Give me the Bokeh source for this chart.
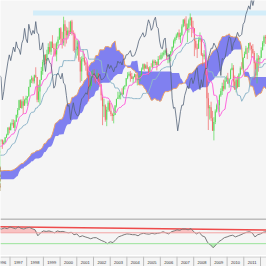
import numpy as np
from bokeh.plotting import figure
from bokeh.layouts import column
from bokeh.models import Range1d, Span
from bokeh.core.properties import value
from bokeh.embed import file_html
from bokeh.resources import INLINE

# ---------------- data: monthly index values, Jan 1990 .. Dec 2013 ----------------
FIRST_YEAR = 1990
OPEN_FIRST = 353.4

close = [
    329.1, 331.9, 339.9, 330.8, 361.2, 358.0, 356.2, 322.6, 306.1, 304.0, 322.2, 330.2,
    343.9, 367.1, 375.2, 375.3, 389.8, 371.2, 387.8, 395.4, 387.9, 392.5, 375.2, 417.1,
    408.8, 412.7, 403.7, 414.9, 415.4, 408.1, 424.2, 414.0, 417.8, 418.7, 431.4, 435.7,
    438.8, 443.4, 451.7, 440.2, 450.2, 450.5, 448.1, 463.6, 458.9, 467.8, 461.8, 466.5,
    481.6, 467.1, 445.8, 450.9, 456.5, 444.3, 458.3, 475.5, 462.7, 472.4, 454.0, 459.3,
    470.4, 487.4, 500.7, 514.7, 533.4, 544.8, 562.1, 561.9, 584.4, 581.5, 605.4, 615.9,
    636.0, 640.4, 645.5, 654.2, 669.1, 670.6, 639.9, 652.0, 687.3, 705.3, 757.0, 740.7,
    786.2, 790.8, 757.1, 801.3, 848.3, 885.1, 954.3, 899.5, 947.3, 914.6, 955.4, 970.4,
    980.3, 1049.3, 1101.8, 1111.8, 1090.8, 1133.8, 1120.7, 957.3, 1017.0, 1098.7, 1163.6, 1229.2,
    1279.6, 1238.3, 1286.4, 1335.2, 1301.8, 1372.7, 1328.7, 1320.4, 1282.7, 1362.9, 1389.0, 1469.3,
    1394.5, 1366.4, 1498.6, 1452.4, 1420.6, 1454.6, 1430.8, 1517.7, 1436.5, 1429.4, 1315.2, 1320.3,
    1366.0, 1239.9, 1160.3, 1249.5, 1255.8, 1224.4, 1211.2, 1133.6, 1040.9, 1059.8, 1139.5, 1148.1,
    1130.2, 1106.7, 1147.4, 1076.9, 1067.1, 989.8, 911.6, 916.1, 815.3, 885.8, 936.3, 879.8,
    855.7, 841.2, 848.2, 916.9, 963.6, 974.5, 990.3, 1008.0, 996.0, 1050.7, 1058.2, 1111.9,
    1131.1, 1144.9, 1126.2, 1107.3, 1120.7, 1140.8, 1101.7, 1104.2, 1114.6, 1130.2, 1173.8, 1211.9,
    1181.3, 1203.6, 1180.6, 1156.9, 1191.5, 1191.3, 1234.2, 1220.3, 1228.8, 1207.0, 1249.5, 1248.3,
    1280.1, 1280.7, 1294.9, 1310.6, 1270.1, 1270.2, 1276.7, 1303.8, 1335.9, 1377.9, 1400.6, 1418.3,
    1438.2, 1406.8, 1420.9, 1482.4, 1530.6, 1503.4, 1455.3, 1474.0, 1526.8, 1549.4, 1481.1, 1468.4,
    1378.6, 1330.6, 1322.7, 1385.6, 1400.4, 1280.0, 1267.4, 1282.8, 1166.4, 968.8, 896.2, 903.3,
    825.9, 735.1, 797.9, 872.8, 919.1, 919.3, 987.5, 1020.6, 1057.1, 1036.2, 1095.6, 1115.1,
    1073.9, 1104.5, 1169.4, 1186.7, 1089.4, 1030.7, 1101.6, 1049.3, 1141.2, 1183.3, 1180.6, 1257.6,
    1286.1, 1327.2, 1325.8, 1363.6, 1345.2, 1320.6, 1292.3, 1218.9, 1131.4, 1253.3, 1247.0, 1257.6,
    1312.4, 1365.7, 1408.5, 1397.9, 1310.3, 1362.2, 1379.3, 1406.6, 1440.7, 1412.2, 1416.2, 1426.2,
    1498.1, 1514.7, 1569.2, 1597.6, 1630.7, 1606.3, 1685.7, 1633.0, 1681.6, 1756.5, 1805.8, 1848.4,
]

high = [
    360.6, 336.1, 344.5, 347.3, 362.3, 368.9, 369.8, 356.2, 326.8, 319.8, 323.7, 332.4,
    344.3, 371.1, 378.6, 390.5, 392.2, 391.4, 392.2, 398.2, 397.7, 397.4, 399.7, 417.1,
    420.8, 417.8, 413.7, 419.1, 420.5, 416.8, 425.1, 425.1, 422.4, 419.9, 431.5, 442.0,
    442.4, 449.5, 456.9, 452.0, 453.0, 453.8, 451.0, 464.2, 463.6, 469.5, 470.9, 471.2,
    482.9, 482.9, 471.1, 453.1, 457.6, 462.6, 459.3, 477.0, 475.9, 474.0, 473.4, 463.4,
    472.2, 489.2, 503.2, 515.3, 534.6, 551.1, 563.8, 563.0, 586.0, 590.7, 608.0, 622.9,
    637.0, 664.2, 656.9, 656.0, 680.3, 673.3, 673.1, 666.1, 691.1, 714.1, 762.1, 765.2,
    794.7, 817.7, 817.0, 812.9, 851.8, 898.7, 957.7, 960.3, 960.0, 983.1, 964.6, 986.3,
    984.2, 1051.4, 1105.7, 1130.5, 1122.0, 1138.1, 1190.6, 1121.0, 1066.1, 1102.2, 1192.9, 1244.9,
    1280.4, 1284.0, 1316.2, 1362.8, 1375.0, 1376.1, 1420.3, 1360.4, 1361.4, 1373.3, 1410.7, 1473.0,
    1478.0, 1444.6, 1552.9, 1527.2, 1481.5, 1474.6, 1517.3, 1525.2, 1530.1, 1454.8, 1438.5, 1389.9,
    1383.4, 1376.4, 1263.5, 1269.3, 1315.9, 1286.6, 1239.8, 1226.3, 1135.5, 1110.6, 1163.4, 1173.0,
    1176.6, 1130.2, 1173.0, 1147.8, 1106.6, 1070.0, 994.5, 965.0, 925.0, 907.4, 951.6, 954.3,
    935.1, 864.6, 895.9, 919.7, 965.4, 1015.3, 1015.4, 1011.0, 1040.3, 1053.8, 1063.7, 1112.6,
    1155.4, 1159.0, 1163.2, 1150.6, 1127.7, 1146.3, 1140.8, 1109.7, 1131.5, 1142.1, 1188.5, 1217.3,
    1217.8, 1212.4, 1229.1, 1191.9, 1199.6, 1219.6, 1245.2, 1245.9, 1243.1, 1233.3, 1270.6, 1275.8,
    1294.9, 1297.6, 1310.9, 1318.2, 1326.7, 1290.7, 1280.4, 1306.7, 1340.3, 1389.5, 1407.9, 1431.8,
    1441.6, 1461.6, 1438.9, 1498.0, 1535.6, 1540.6, 1555.9, 1503.9, 1538.7, 1576.1, 1545.8, 1523.6,
    1471.8, 1396.0, 1359.7, 1404.6, 1440.2, 1404.1, 1292.2, 1313.2, 1303.0, 1167.0, 1007.5, 918.9,
    943.9, 877.9, 833.0, 888.7, 930.2, 956.2, 996.7, 1039.5, 1080.2, 1101.4, 1113.7, 1130.4,
    1150.4, 1112.4, 1180.7, 1219.8, 1206.4, 1131.2, 1120.0, 1129.2, 1148.9, 1196.1, 1227.1, 1262.6,
    1302.7, 1344.1, 1332.3, 1364.6, 1370.6, 1345.2, 1356.5, 1307.4, 1229.3, 1292.7, 1277.6, 1269.4,
    1333.5, 1378.0, 1419.2, 1422.4, 1415.3, 1363.5, 1391.7, 1426.7, 1474.5, 1471.0, 1434.3, 1448.0,
    1509.9, 1530.9, 1570.3, 1597.6, 1687.2, 1654.2, 1698.8, 1709.7, 1729.9, 1765.0, 1813.6, 1849.4,
]

low = [
    323.0, 322.1, 331.1, 327.8, 330.8, 352.1, 352.1, 306.6, 300.3, 294.5, 301.6, 321.4,
    309.4, 343.9, 362.6, 372.5, 371.2, 368.2, 370.3, 375.1, 383.5, 378.8, 373.6, 371.8,
    405.2, 406.9, 399.2, 394.5, 408.7, 401.0, 403.9, 410.5, 410.9, 402.7, 415.4, 425.1,
    428.5, 427.9, 441.3, 436.0, 436.0, 441.4, 441.0, 445.3, 450.5, 456.0, 454.6, 459.4,
    464.0, 464.0, 436.2, 435.0, 442.9, 441.1, 443.9, 455.3, 460.8, 456.6, 449.1, 443.0,
    457.2, 469.3, 481.2, 500.7, 510.8, 530.5, 539.9, 553.0, 560.9, 569.8, 575.3, 599.2,
    597.3, 633.7, 616.7, 624.1, 630.1, 658.2, 605.9, 639.8, 649.0, 684.0, 702.3, 716.7,
    737.0, 773.4, 756.8, 733.5, 798.0, 829.8, 882.1, 898.5, 893.0, 855.3, 914.6, 931.0,
    912.8, 980.3, 1047.4, 1076.7, 1074.4, 1074.7, 1114.3, 939.9, 939.9, 923.3, 1098.7, 1136.9,
    1205.5, 1211.9, 1234.7, 1282.8, 1287.7, 1279.6, 1328.5, 1268.7, 1268.4, 1233.7, 1341.0, 1387.4,
    1350.1, 1325.1, 1346.6, 1339.4, 1361.1, 1401.0, 1413.9, 1428.6, 1419.4, 1305.8, 1294.9, 1254.1,
    1274.6, 1228.7, 1081.2, 1091.9, 1232.0, 1203.0, 1165.5, 1124.9, 944.8, 1026.8, 1054.3, 1114.5,
    1081.7, 1074.4, 1106.7, 1063.5, 1048.9, 952.9, 775.7, 833.4, 800.6, 768.6, 872.1, 873.0,
    840.3, 806.3, 788.9, 847.9, 902.8, 963.6, 962.1, 960.8, 990.4, 995.9, 1031.2, 1053.4,
    1105.1, 1124.4, 1087.2, 1107.2, 1076.3, 1118.2, 1078.8, 1060.7, 1099.2, 1090.2, 1127.6, 1173.4,
    1163.8, 1180.9, 1176.9, 1136.2, 1146.2, 1188.3, 1183.6, 1201.1, 1205.4, 1168.2, 1201.1, 1246.6,
    1245.7, 1253.6, 1268.4, 1280.7, 1245.3, 1219.3, 1224.5, 1234.0, 1290.9, 1327.1, 1360.9, 1385.9,
    1403.9, 1389.4, 1364.0, 1416.4, 1476.7, 1484.2, 1454.3, 1370.6, 1439.3, 1489.6, 1406.1, 1435.7,
    1270.1, 1316.8, 1257.0, 1324.4, 1373.7, 1272.0, 1200.4, 1247.5, 1133.5, 839.8, 741.0, 815.7,
    804.5, 735.1, 666.8, 783.3, 866.1, 888.9, 869.3, 978.5, 992.3, 1019.0, 1029.4, 1085.9,
    1071.6, 1044.5, 1105.4, 1170.7, 1040.8, 1028.3, 1010.9, 1039.7, 1049.3, 1131.9, 1173.0, 1186.6,
    1256.5, 1282.9, 1249.1, 1294.7, 1311.8, 1258.1, 1282.9, 1101.5, 1114.2, 1074.8, 1158.7, 1202.4,
    1258.9, 1312.4, 1340.0, 1357.4, 1292.0, 1266.7, 1325.4, 1354.7, 1396.6, 1403.3, 1343.4, 1385.9,
    1426.2, 1485.0, 1501.5, 1536.0, 1581.3, 1560.3, 1604.6, 1627.5, 1633.4, 1646.5, 1746.2, 1768.0,
]

# lower-panel oscillator, read every two months from mid-1996
osc_start = 1996 + 1 / 3
osc = [86, 84, 88, 85, 92, 88, 85, 92, 86, 84, 88, 90, 85, 81, 59, 70, 77, 75, 77, 74,
       70, 77, 74, 75, 72, 70, 72, 63, 66, 55, 59, 55, 52, 48, 52, 52, 46, 41, 37, 30,
       37, 34, 45, 55, 59, 63, 66, 65, 63, 63, 59, 66, 68, 66, 65, 68, 66, 68, 70, 74,
       70, 66, 74, 77, 81, 79, 84, 84, 81, 86, 74, 66, 72, 59, 55, 34, 26, 15, 26, 37,
       44, 52, 55, 59, 61, 55, 59, 63, 68, 72, 74, 70, 55, 63, 66, 72, 74, 73]
osc_upper = 70
osc_lower = 30
trend_t = [1996.0, 2013.0]
trend_v = [92.3, 79.5]

# horizontal resistance band
band_start = 1998.38
band_low, band_high = 1561, 1597

# year cells shown on the time axis
years = list(range(1996, 2013))
label_years = list(range(1996, 2012))
year_labels = [str(y) for y in label_years]
TENKAN, KIJUN, SENKOU_B = 9, 26, 52
CLOUD_SHIFT, CHIKOU_SHIFT = 26, 25

# ---------------- derived ichimoku series ----------------
c = np.array(close, dtype=float)
h = np.array(high, dtype=float)
l = np.array(low, dtype=float)
n = len(c)
o = np.concatenate([[OPEN_FIRST], c[:-1]])
t = FIRST_YEAR + (np.arange(n) + 0.5) / 12.0


def midpoint(period):
    out = np.empty(n)
    for i in range(n):
        j = max(0, i - period + 1)
        out[i] = (h[j:i + 1].max() + l[j:i + 1].min()) / 2.0
    return out


tenkan = midpoint(TENKAN)
kijun = midpoint(KIJUN)
span_a = (tenkan + kijun) / 2.0
span_b = midpoint(SENKOU_B)
t_cloud = t + CLOUD_SHIFT / 12.0
t_chikou = t - CHIKOU_SHIFT / 12.0

BG = "#f5f5f5"
X0, X1 = 1996.431, 2012.359
Y0, Y1 = 107.0, 1669.0
xr = Range1d(X0, X1)


def base_fig(height, y_range):
    f = figure(width=266, height=height, x_range=xr, y_range=y_range,
               output_backend="svg", toolbar_location=None,
               x_axis_location=None, y_axis_location=None,
               min_border=0, background_fill_color=BG, border_fill_color=BG,
               outline_line_color=None)
    f.grid.visible = False
    return f


p = base_fig(218, Range1d(Y0, Y1))

p.quad(left=[band_start], right=[X1 + 1], bottom=[band_low], top=[band_high],
       fill_color="#d3edf9", line_color=None)

p.varea(x=t_cloud, y1=span_a, y2=span_b, fill_color="#8080f0")
p.line(t_cloud, span_a, line_color="#eda365", line_width=1)

up = c >= o
dn = ~up
UPC, DNC = "#4cd64c", "#f06060"
p.segment(x0=t[up], y0=h[up], x1=t[up], y1=l[up], line_color=UPC, line_width=0.9, line_alpha=0.75)
p.segment(x0=t[dn], y0=h[dn], x1=t[dn], y1=l[dn], line_color=DNC, line_width=0.9, line_alpha=0.75)
bw = 0.75 / 12
p.vbar(x=t[up], width=bw, top=c[up], bottom=o[up], fill_color=UPC, fill_alpha=0.8, line_color=None)
p.vbar(x=t[dn], width=bw, top=o[dn], bottom=c[dn], fill_color=DNC, fill_alpha=0.8, line_color=None)

p.line(t, kijun, line_color="#8fb6ca", line_width=1)
p.line(t, tenkan, line_color="#ff66dd", line_width=1)
p.line(t_chikou, c, line_color="#56657a", line_width=0.8)

# ---------------- oscillator panel ----------------
osc_v = np.array(osc, dtype=float)
osc_t = osc_start + np.arange(len(osc_v)) / 6.0

q = base_fig(37, Range1d(-13.6, 122.7))
q.varea(x=osc_t, y1=np.full(len(osc_v), osc_upper), y2=np.maximum(osc_v, osc_upper),
        fill_color="#f8c2c2")
q.varea(x=osc_t, y1=np.minimum(osc_v, osc_lower), y2=np.full(len(osc_v), osc_lower),
        fill_color="#b5eeb5")
q.add_layout(Span(location=osc_upper, dimension="width", line_color="#f3a3a3", line_width=1))
q.add_layout(Span(location=osc_lower, dimension="width", line_color="#9be39b", line_width=1))
q.line(trend_t, trend_v, line_color="#ee4a4a", line_width=1.5)
q.line(osc_t, osc_v, line_color="#7a7a7a", line_width=1)
q.add_layout(Span(location=121.0, dimension="width", line_color="#7c7c7c", line_width=1))

# ---------------- year axis strip ----------------
a = base_fig(11, Range1d(0, 1))
a.add_layout(Span(location=0.96, dimension="width", line_color="#c4c4c4", line_width=1))
a.segment(x0=years, y0=[0] * len(years), x1=years, y1=[1] * len(years),
          line_color="#bcbcbc", line_width=1)
a.text(x=[y + 0.5 for y in label_years], y=[0.45] * len(label_years), text=year_labels,
       text_font=value("Liberation Sans"), text_font_size="4px", text_color="#333333",
       text_align="center", text_baseline="middle")

layout = column(p, q, a, spacing=0)
open("out.html", "w").write(file_html(layout, INLINE))
